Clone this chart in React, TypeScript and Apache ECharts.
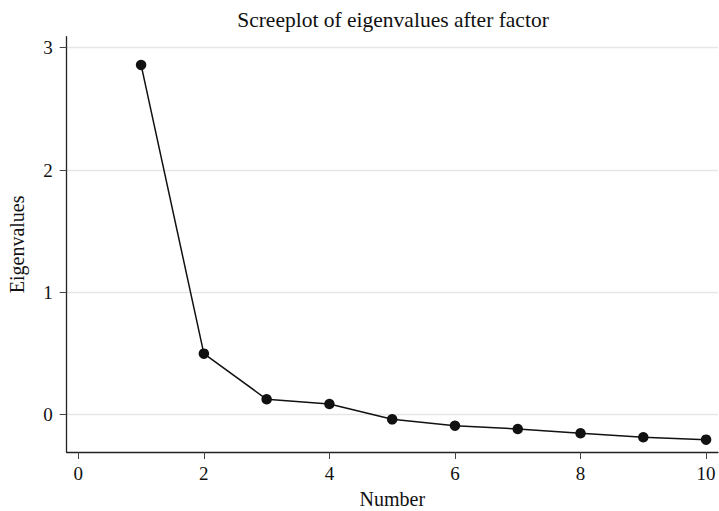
import React, { useEffect, useRef } from "react";
import * as echarts from "echarts";

const numbers = [1, 2, 3, 4, 5, 6, 7, 8, 9, 10];
const eigenvalues = [2.859, 0.499, 0.126, 0.087, -0.038, -0.09, -0.117, -0.152, -0.185, -0.204];
const xTicks = [0, 2, 4, 6, 8, 10];
const yTicks = [0, 1, 2, 3];

const FONT = "'Liberation Serif', 'DejaVu Serif', serif";

export default function App() {
  const ref = useRef<HTMLDivElement>(null);
  useEffect(() => {
    if (!ref.current) return;
    const chart = echarts.init(ref.current, undefined, { renderer: "svg" });
    chart.setOption({
      animation: false,
      backgroundColor: "#ffffff",
      textStyle: { fontFamily: FONT },
      title: {
        text: "Screeplot of eigenvalues after factor",
        left: 388,
        top: 4,
        textAlign: "center",
        textStyle: { fontFamily: FONT, fontWeight: "normal", fontSize: 21.5, color: "#111" },
      },
      grid: {
        left: 66.7,
        right: 1,
        top: 36.7,
        bottom: 59,
        containLabel: false,
        outerBoundsMode: "none",
      },
      xAxis: {
        type: "value",
        min: -0.185,
        max: 10.19,
        name: "Number",
        nameLocation: "middle",
        nameGap: 37,
        nameTextStyle: { fontFamily: FONT, fontSize: 20, color: "#111" },
        axisLine: { show: true, onZero: false, lineStyle: { color: "#222", width: 1.3 } },
        axisTick: { show: true, length: 7, customValues: xTicks, lineStyle: { color: "#444" } },
        axisLabel: { customValues: xTicks, margin: 12, fontFamily: FONT, fontSize: 19, color: "#111" },
        splitLine: { show: false },
      },
      yAxis: {
        type: "value",
        min: -0.305,
        max: 3.09,
        name: "Eigenvalues",
        nameLocation: "middle",
        nameGap: 40,
        nameTextStyle: { fontFamily: FONT, fontSize: 20, color: "#111" },
        axisLine: { show: true, onZero: false, lineStyle: { color: "#222", width: 1.3 } },
        axisTick: { show: true, length: 7, customValues: yTicks, lineStyle: { color: "#444" } },
        axisLabel: { customValues: yTicks, margin: 14, fontFamily: FONT, fontSize: 19, color: "#111" },
        splitLine: { show: true, lineStyle: { color: "#e6e6e6", width: 1.3 } },
      },
      series: [
        {
          type: "line",
          data: numbers.map((n, i) => [n, eigenvalues[i]]),
          symbol: "circle",
          symbolSize: 10.5,
          lineStyle: { color: "#111", width: 1.5 },
          itemStyle: { color: "#111" },
        },
      ],
    });
    return () => chart.dispose();
  }, []);
  return (
    <div
      ref={ref}
      style={{ position: "fixed", left: 0, top: 0, width: 719, height: 511 }}
    />
  );
}
